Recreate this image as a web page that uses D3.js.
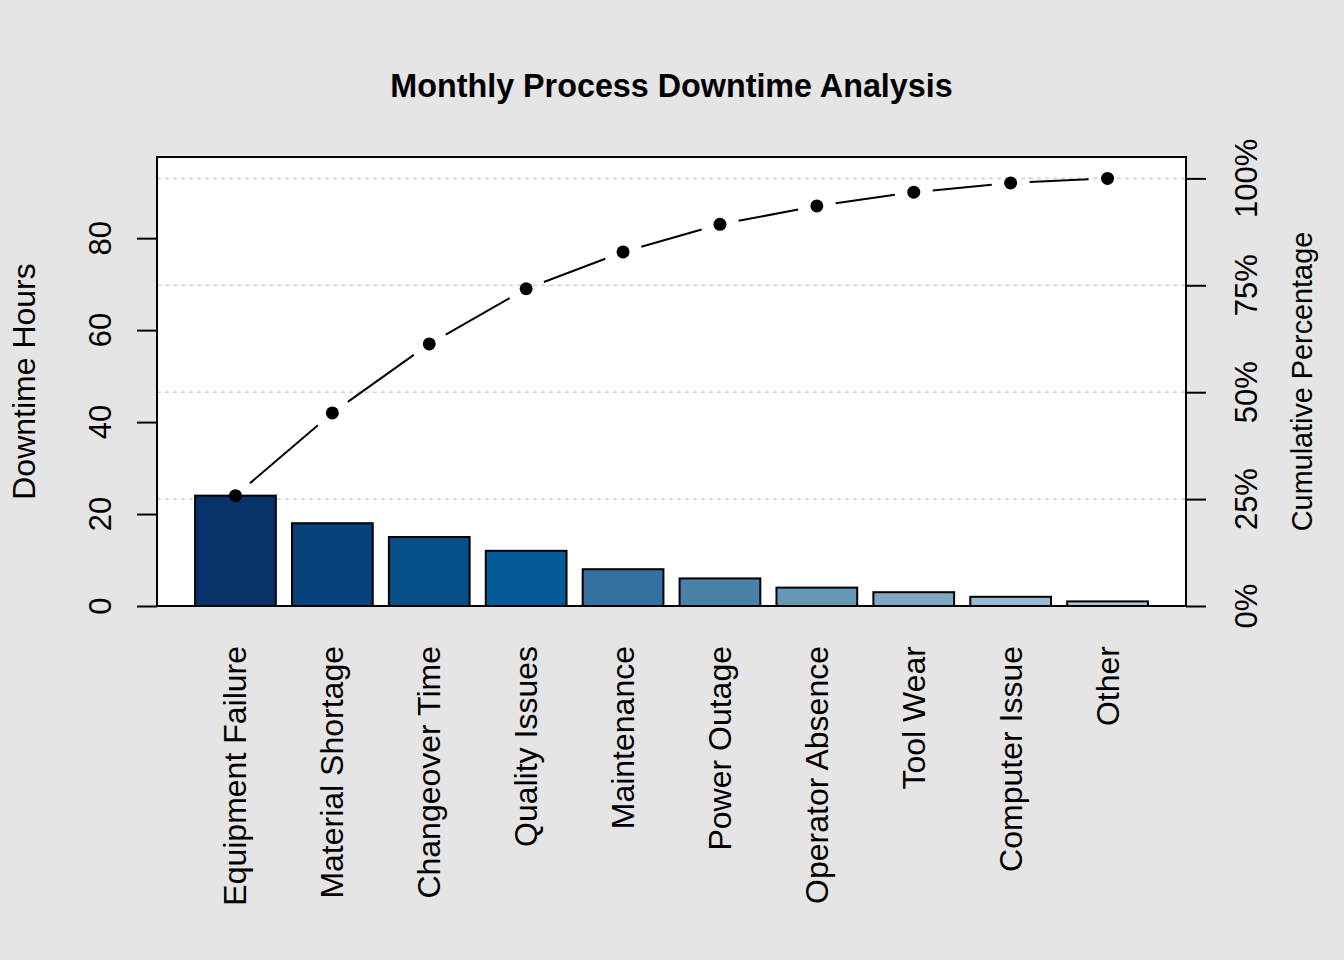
<!DOCTYPE html>
<html>
<head>
<meta charset="utf-8">
<script src="https://cdn.jsdelivr.net/npm/d3@7"></script>
<style>
  body { margin: 0; background: #e5e5e5; }
  text { font-family: "Liberation Sans", Arial, sans-serif; }
</style>
</head>
<body>
<div id="plot"></div>
<script>
var categories = ["Equipment Failure", "Material Shortage", "Changeover Time", "Quality Issues",
  "Maintenance", "Power Outage", "Operator Absence", "Tool Wear", "Computer Issue", "Other"];
var hours = [24, 18, 15, 12, 8, 6, 4, 3, 2, 1];
var barColors = ["#08336A", "#07427A", "#064F89", "#055B97", "#336FA0", "#4B80A9",
  "#6698B5", "#7EA8C3", "#97B9D3", "#AAC6DE"];
var leftTicks = [0, 20, 40, 60, 80];
var pctTicks = [0, 25, 50, 75, 100];

const w = 1344;
const h = 960;
const plotL = 157, plotR = 1186, plotT = 157, plotB = 606;

const total = d3.sum(hours);
const cum = d3.cumsum(hours);

const data = categories.map((c, i) => ({ cat: c, hours: hours[i], cum: cum[i], color: barColors[i] }));

const xScale = d3.scaleBand()
  .domain(categories)
  .range([plotL, plotR])
  .paddingInner(1 / 6)
  .paddingOuter(0.393);

const yScale = d3.scaleLinear()
  .domain([0, total * 1.05])
  .range([plotB, plotT]);

// percentage scale sits on the same pixels as 0..total hours
const pScale = d3.scaleLinear()
  .domain([0, 100])
  .range([yScale(0), yScale(total)]);

const svg = d3.select("div#plot")
  .append("svg")
  .attr("width", w)
  .attr("height", h);

svg.append("rect")
  .attr("width", w)
  .attr("height", h)
  .attr("fill", "#e5e5e5");

svg.append("rect")
  .attr("x", plotL)
  .attr("y", plotT)
  .attr("width", plotR - plotL)
  .attr("height", plotB - plotT)
  .attr("fill", "white");

// grid lines at the cumulative percentage ticks
svg.selectAll(".grid")
  .data(pctTicks)
  .enter()
  .append("line")
  .attr("class", "grid")
  .attr("x1", plotL)
  .attr("x2", plotR)
  .attr("y1", d => pScale(d))
  .attr("y2", d => pScale(d))
  .attr("stroke", "#d3d3d3")
  .attr("stroke-width", 1.6)
  .attr("stroke-dasharray", "4,4");

svg.selectAll(".bar")
  .data(data)
  .enter()
  .append("rect")
  .attr("class", "bar")
  .attr("x", d => xScale(d.cat))
  .attr("y", d => yScale(d.hours))
  .attr("width", xScale.bandwidth())
  .attr("height", d => yScale(0) - yScale(d.hours))
  .attr("fill", d => d.color)
  .attr("stroke", "black")
  .attr("stroke-width", 2);

// cumulative line, type "b": segments with gaps around the points
const cx = d => xScale(d.cat) + xScale.bandwidth() / 2;
const cy = d => yScale(d.cum);
const gap = 19;
const segs = d3.pairs(data).map(([a, b]) => {
  const x1 = cx(a), y1 = cy(a), x2 = cx(b), y2 = cy(b);
  const len = Math.hypot(x2 - x1, y2 - y1);
  const ux = (x2 - x1) / len, uy = (y2 - y1) / len;
  return { x1: x1 + ux * gap, y1: y1 + uy * gap, x2: x2 - ux * gap, y2: y2 - uy * gap };
});

svg.selectAll(".cum-seg")
  .data(segs)
  .enter()
  .append("line")
  .attr("class", "cum-seg")
  .attr("x1", d => d.x1)
  .attr("y1", d => d.y1)
  .attr("x2", d => d.x2)
  .attr("y2", d => d.y2)
  .attr("stroke", "black")
  .attr("stroke-width", 2);

svg.selectAll(".cum-pt")
  .data(data)
  .enter()
  .append("circle")
  .attr("class", "cum-pt")
  .attr("cx", cx)
  .attr("cy", cy)
  .attr("r", 6.5)
  .attr("fill", "black");

svg.append("rect")
  .attr("x", plotL)
  .attr("y", plotT)
  .attr("width", plotR - plotL)
  .attr("height", plotB - plotT)
  .attr("fill", "none")
  .attr("stroke", "black")
  .attr("stroke-width", 2);

// left axis
const yAxis = d3.axisLeft(yScale).tickValues(leftTicks).tickSize(20).tickFormat("");
svg.append("g")
  .attr("transform", `translate(${plotL}, 0)`)
  .call(yAxis)
  .call(g => g.select(".domain").remove())
  .call(g => g.selectAll("line").attr("stroke", "black").attr("stroke-width", 2));

svg.selectAll(".ylab")
  .data(leftTicks)
  .enter()
  .append("text")
  .attr("class", "ylab")
  .attr("transform", d => `translate(111, ${yScale(d)}) rotate(-90)`)
  .attr("text-anchor", "middle")
  .attr("font-size", 31)
  .text(d => d);

// right axis
const pAxis = d3.axisRight(pScale).tickValues(pctTicks).tickSize(20).tickFormat("");
svg.append("g")
  .attr("transform", `translate(${plotR}, 0)`)
  .call(pAxis)
  .call(g => g.select(".domain").remove())
  .call(g => g.selectAll("line").attr("stroke", "black").attr("stroke-width", 2));

svg.selectAll(".plab")
  .data(pctTicks)
  .enter()
  .append("text")
  .attr("class", "plab")
  .attr("transform", d => `translate(1257, ${pScale(d)}) rotate(-90)`)
  .attr("text-anchor", "middle")
  .attr("font-size", 31)
  .text(d => d + "%");

// category labels
svg.selectAll(".xlab")
  .data(data)
  .enter()
  .append("text")
  .attr("class", "xlab")
  .attr("transform", d => `translate(${cx(d) + 11}, 646) rotate(-90)`)
  .attr("text-anchor", "end")
  .attr("font-size", 32)
  .text(d => d.cat);

svg.append("text")
  .attr("transform", `translate(35, ${(plotT + plotB) / 2}) rotate(-90)`)
  .attr("text-anchor", "middle")
  .attr("font-size", 32)
  .text("Downtime Hours");

svg.append("text")
  .attr("transform", `translate(1312, ${(plotT + plotB) / 2}) rotate(-90)`)
  .attr("text-anchor", "middle")
  .attr("font-size", 28.8)
  .text("Cumulative Percentage");

svg.append("text")
  .attr("x", (plotL + plotR) / 2)
  .attr("y", 97)
  .attr("text-anchor", "middle")
  .attr("font-size", 32.3)
  .attr("font-weight", "bold")
  .text("Monthly Process Downtime Analysis");
</script>
</body>
</html>
